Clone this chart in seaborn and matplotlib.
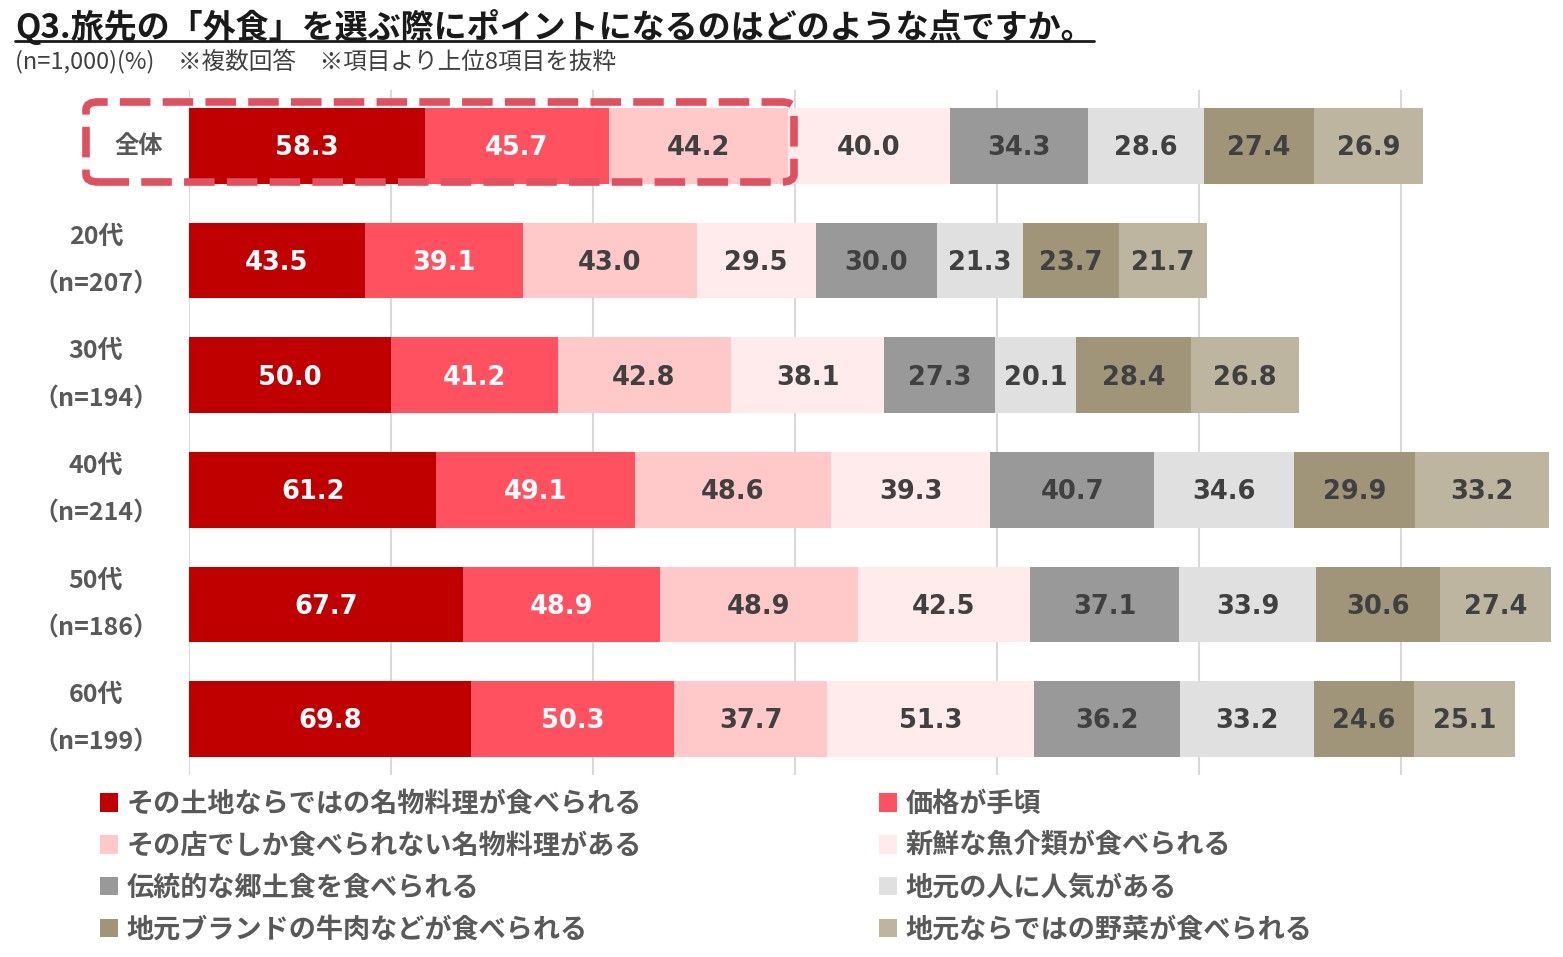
import numpy as np
import pandas as pd
import seaborn as sns
import matplotlib.pyplot as plt
from matplotlib.patches import Patch, FancyBboxPatch
from matplotlib.lines import Line2D

# データ
groups = ["全体", "20代", "30代", "40代", "50代", "60代"]
group_labels = ["全体", "20代\n（n=207）", "30代\n（n=194）", "40代\n（n=214）", "50代\n（n=186）", "60代\n（n=199）"]
items = [
    "その土地ならではの名物料理が食べられる",
    "価格が手頃",
    "その店でしか食べられない名物料理がある",
    "新鮮な魚介類が食べられる",
    "伝統的な郷土食を食べられる",
    "地元の人に人気がある",
    "地元ブランドの牛肉などが食べられる",
    "地元ならではの野菜が食べられる",
]
v_meibutsu = [58.3, 43.5, 50.0, 61.2, 67.7, 69.8]
v_kakaku = [45.7, 39.1, 41.2, 49.1, 48.9, 50.3]
v_misedake = [44.2, 43.0, 42.8, 48.6, 48.9, 37.7]
v_gyokai = [40.0, 29.5, 38.1, 39.3, 42.5, 51.3]
v_kyodo = [34.3, 30.0, 27.3, 40.7, 37.1, 36.2]
v_ninki = [28.6, 21.3, 20.1, 34.6, 33.9, 33.2]
v_gyuniku = [27.4, 23.7, 28.4, 29.9, 30.6, 24.6]
v_yasai = [26.9, 21.7, 26.8, 33.2, 27.4, 25.1]

colors = ["#C00000", "#FF515F", "#FFC9C9", "#FFEBEB", "#999999", "#E0E0E0", "#A09479", "#BEB5A0"]
text_colors = ["white", "white", "#404040", "#404040", "#404040", "#404040", "#404040", "#404040"]

series = [v_meibutsu, v_kakaku, v_misedake, v_gyokai, v_kyodo, v_ninki, v_gyuniku, v_yasai]
df = pd.DataFrame(np.array(series).T, index=groups, columns=items)
cum = df.cumsum(axis=1)

sns.set_theme(style="white")
plt.rcParams['font.family'] = ['Noto Sans CJK JP', 'DejaVu Sans']

fig = plt.figure(figsize=(15.63, 9.57), dpi=100)
ax = fig.add_axes([189 / 1563, 1 - 775 / 957, 1374 / 1563, 685 / 957])

# 積み上げ棒（累積値を後ろから描画）
for k in range(len(items) - 1, -1, -1):
    d = pd.DataFrame({"group": groups, "val": cum.iloc[:, k].values})
    sns.barplot(data=d, y="group", x="val", order=groups, color=colors[k],
                saturation=1, width=0.66, orient="h", ax=ax, zorder=2,
                linewidth=0, edgecolor="none")

# 数値ラベル
for k in range(len(items)):
    for i, g in enumerate(groups):
        v = df.iloc[i, k]
        ax.text(cum.iloc[i, k] - v / 2, i + 0.02, f"{v:.1f}", ha="center", va="center",
                fontsize=18.5, fontweight="bold", color=text_colors[k],
                family=["DejaVu Sans"], zorder=5)

ax.set_xlim(0, 340)
ax.set_ylim(5.49, -0.49)
ax.set_xticks(np.arange(0, 301, 50))
ax.set_xticklabels([])
ax.set_yticks([])
ax.set_xlabel("")
ax.set_ylabel("")
ax.grid(axis="x", color="#D9D9D9", linewidth=1.5, zorder=0)
ax.grid(axis="y", visible=False)
for s in ax.spines.values():
    s.set_visible(False)
ax.tick_params(length=0)

# 行ラベル
for i, lab in enumerate(group_labels):
    xpos = -0.0364 if i == 0 else -0.0677
    ax.text(xpos, i, lab, transform=ax.get_yaxis_transform(), ha="center", va="center",
            fontsize=17.5 if i == 0 else 18, fontweight="bold", color="#595959",
            linespacing=2.25)

# 全体の強調枠
box = FancyBboxPatch((86 / 1563, 1 - 182 / 957), 708 / 1563, 80 / 957,
                     boxstyle="round,pad=0,rounding_size=0.008",
                     transform=fig.transFigure, fill=False, edgecolor="#E0505F",
                     linewidth=5.5, linestyle=(0, (4, 1.6)), zorder=10)
fig.patches.append(box)

# タイトル
title = fig.text(15 / 1563, 1 - 38 / 957, "Q3.旅先の「外食」を選ぶ際にポイントになるのはどのような点ですか。",
                 fontsize=23.8, fontweight="bold", color="#1A1A1A", ha="left", va="baseline")
fig.text(15 / 1563, 1 - 68 / 957, "(n=1,000)(%)　※複数回答　※項目より上位8項目を抜粋",
         fontsize=17, color="#404040", ha="left", va="baseline")

fig.canvas.draw()
bb = title.get_window_extent(fig.canvas.get_renderer())
uy = 1 - 41 / 957
fig.add_artist(Line2D([bb.x0 / fig.bbox.width, bb.x1 / fig.bbox.width], [uy, uy],
                      transform=fig.transFigure, color="#1A1A1A", linewidth=2))

# 凡例（行方向の並び）
handles = [Patch(facecolor=c, edgecolor="none") for c in colors]
order = [0, 2, 4, 6, 1, 3, 5, 7]
leg = fig.legend([handles[j] for j in order], [items[j] for j in order],
                 loc="upper left", bbox_to_anchor=(100 / 1563, 1 - 790 / 957),
                 ncol=2, frameon=False, fontsize=19.5, labelcolor="#595959",
                 handlelength=0.68, handleheight=0.68, handletextpad=0.3,
                 columnspacing=8.75, labelspacing=0.51, borderaxespad=0, borderpad=0)
for t in leg.get_texts():
    t.set_fontweight("bold")

fig.savefig("out.png", dpi=100)
